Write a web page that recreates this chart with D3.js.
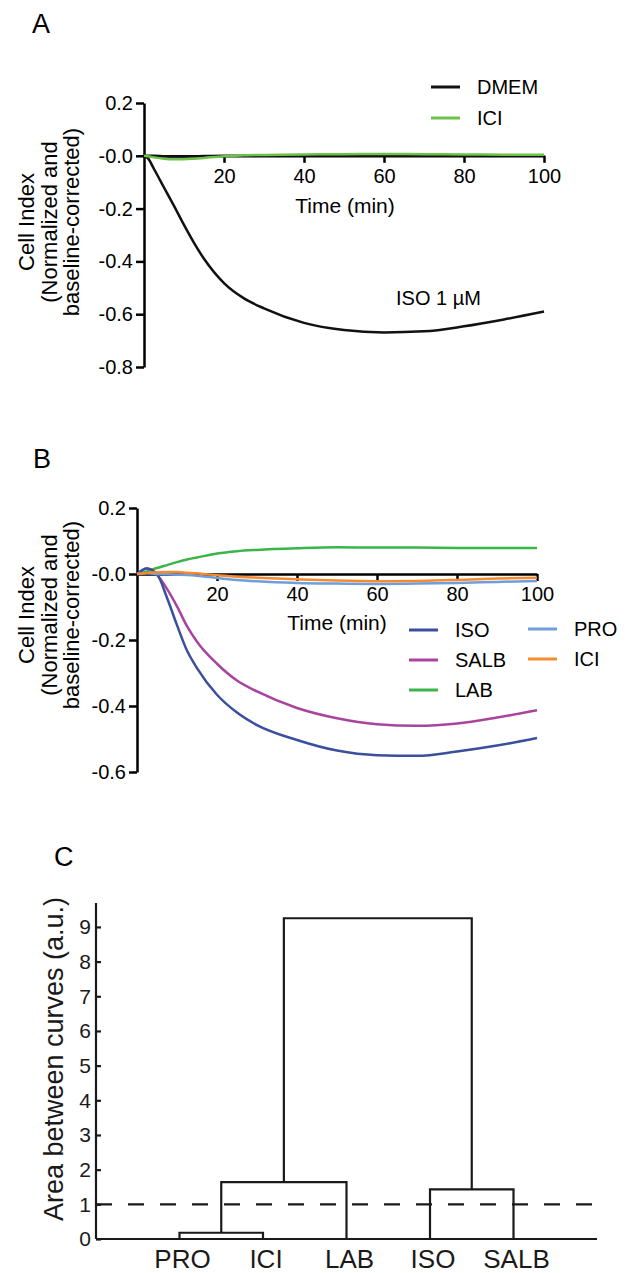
<!DOCTYPE html>
<html>
<head>
<meta charset="utf-8">
<script src="https://cdn.jsdelivr.net/npm/d3@7"></script>
<style>
  body { margin: 0; background: #fff; }
  svg { display: block; font-family: "Liberation Sans", Arial, sans-serif; }
</style>
</head>
<body>
<div id="chart"></div>
<script>
// ---- panel A data (time in min, cell index) ----
const timeA = [0, 1, 2.5, 5, 7.5, 10, 12.5, 15, 20, 25, 30, 40, 50, 60, 70, 80, 90, 100];
const dmemA = [0, 0, 0, -0.002, -0.003, -0.003, -0.002, -0.001, 0, 0, 0, 0, 0, 0, 0, 0, 0, 0];
const iciA  = [0, -0.002, -0.006, -0.011, -0.013, -0.013, -0.011, -0.008, -0.002, 0.002, 0.003, 0.005, 0.006, 0.007, 0.006, 0.005, 0.004, 0.004];
const isoA  = [0, -0.01, -0.05, -0.12, -0.19, -0.262, -0.33, -0.39, -0.482, -0.54, -0.578, -0.633, -0.66, -0.669, -0.665, -0.646, -0.62, -0.59];
const yTicksA = [-0.8, -0.6, -0.4, -0.2, 0, 0.2];

// ---- panel B data ----
const timeB = [0, 2.5, 5, 7.5, 10, 12.5, 15, 20, 25, 30, 40, 50, 60, 70, 80, 90, 100];
const isoB  = [0, 0.017, 0, -0.072, -0.155, -0.232, -0.285, -0.366, -0.42, -0.458, -0.503, -0.535, -0.549, -0.551, -0.538, -0.52, -0.497];
const salbB = [0, 0.017, -0.003, -0.045, -0.098, -0.158, -0.205, -0.272, -0.323, -0.356, -0.406, -0.437, -0.455, -0.46, -0.453, -0.435, -0.413];
const labB  = [0, 0.008, 0.018, 0.027, 0.036, 0.044, 0.05, 0.062, 0.069, 0.073, 0.078, 0.081, 0.08, 0.08, 0.079, 0.079, 0.079];
const proB  = [0, 0.002, 0, -0.001, -0.002, -0.003, -0.005, -0.012, -0.018, -0.022, -0.027, -0.029, -0.03, -0.029, -0.027, -0.024, -0.021];
const iciB  = [0, 0.003, 0.005, 0.006, 0.006, 0.004, 0.002, -0.004, -0.008, -0.011, -0.016, -0.02, -0.022, -0.021, -0.018, -0.014, -0.011];
const yTicksB = [-0.6, -0.4, -0.2, 0, 0.2];
const xTicks = [20, 40, 60, 80, 100];

// ---- panel C data (dendrogram) ----
const leaves = ["PRO", "ICI", "LAB", "ISO", "SALB"];
// linkage rows: [child a, child b, height]; index >= leaves.length refers to an earlier row
const linkage = [
  [0, 1, 0.18],
  [5, 2, 1.64],
  [3, 4, 1.43],
  [6, 7, 9.25]
];
const cutoff = 1;
const yTicksC = [0, 1, 2, 3, 4, 5, 6, 7, 8, 9];

const W = 627, H = 1273;
const font = "Liberation Sans, Arial, sans-serif";

const svg = d3.select("#chart").append("svg")
  .attr("width", W)
  .attr("height", H);

function fmtCI(d) {
  if (d === 0) return "-0.0";
  return (d < 0 ? "-" : "") + Math.abs(d).toFixed(1);
}

function styleAxis(g, size) {
  g.selectAll("path, line").attr("stroke", "#000").attr("stroke-width", 2.5);
  g.selectAll("text").attr("fill", "#000").attr("font-size", size).attr("font-family", font);
}

function yTitle(g, x0, yc) {
  const lines = ["Cell Index", "(Normalized and", "baseline-corrected)"];
  lines.forEach((t, i) => {
    g.append("text")
      .attr("transform", `translate(${x0 + i * 22.5},${yc}) rotate(-90)`)
      .attr("text-anchor", "middle")
      .attr("font-size", 22)
      .text(t);
  });
}

function legend(g, items, x, y, dy) {
  items.forEach((it, i) => {
    g.append("line")
      .attr("x1", x).attr("x2", x + 29)
      .attr("y1", y + i * dy).attr("y2", y + i * dy)
      .attr("stroke", it.color).attr("stroke-width", 3);
    g.append("text")
      .attr("x", x + 46).attr("y", y + i * dy + 7)
      .attr("font-size", 20)
      .text(it.name);
  });
}

function drawTimePanel(cfg) {
  const g = svg.append("g");
  const x = d3.scaleLinear().domain([0, 100]).range(cfg.xr);
  const y = d3.scaleLinear().domain(cfg.yd).range(cfg.yr);

  g.append("text").attr("x", cfg.letter[0]).attr("y", cfg.letter[1])
    .attr("font-size", 27).text(cfg.name);

  const ya = g.append("g")
    .attr("transform", `translate(${x(0)},0)`)
    .call(d3.axisLeft(y).tickValues(cfg.yTicks).tickFormat(fmtCI).tickSize(8).tickSizeOuter(0).tickPadding(3));
  styleAxis(ya, 20);

  const xa = g.append("g")
    .attr("transform", `translate(0,${y(0)})`)
    .call(d3.axisBottom(x).tickValues(xTicks).tickSize(7).tickSizeOuter(0).tickPadding(6));
  styleAxis(xa, 20);

  g.append("text")
    .attr("x", cfg.timeLabel[0]).attr("y", cfg.timeLabel[1])
    .attr("text-anchor", "middle").attr("font-size", 21)
    .text("Time (min)");

  yTitle(g, cfg.titleX, cfg.titleY);

  const line = d3.line().curve(d3.curveMonotoneX)
    .x(d => x(d[0])).y(d => y(d[1]));
  cfg.series.forEach(s => {
    g.append("path")
      .datum(cfg.time.map((t, i) => [t, s.values[i]]))
      .attr("fill", "none")
      .attr("stroke", s.color)
      .attr("stroke-width", s.width || 2.5)
      .attr("d", line);
  });
  return g;
}

// Panel A
const gA = drawTimePanel({
  name: "A", letter: [32, 33],
  xr: [144, 544], yd: [-0.8, 0.2], yr: [367, 103],
  yTicks: yTicksA, timeLabel: [345, 213],
  titleX: 34, titleY: 222,
  time: timeA,
  series: [
    { values: isoA, color: "#111" },
    { values: dmemA, color: "#111" },
    { values: iciA, color: "#6cc24a" }
  ]
});
legend(gA, [{ name: "DMEM", color: "#111" }, { name: "ICI", color: "#6cc24a" }], 431, 87, 31);
gA.append("text").attr("x", 396).attr("y", 305).attr("font-size", 20).text("ISO 1 \u00b5M");

// Panel B
const gB = drawTimePanel({
  name: "B", letter: [33, 468],
  xr: [137, 537], yd: [-0.6, 0.2], yr: [772, 508],
  yTicks: yTicksB, timeLabel: [337, 630],
  titleX: 34, titleY: 615,
  time: timeB,
  series: [
    { values: labB, color: "#3ab54a" },
    { values: salbB, color: "#a8449e" },
    { values: isoB, color: "#3a4f9e" },
    { values: proB, color: "#6e9fdc" },
    { values: iciB, color: "#f58a2e" }
  ]
});
legend(gB, [
  { name: "ISO", color: "#3a4f9e" },
  { name: "SALB", color: "#a8449e" },
  { name: "LAB", color: "#3ab54a" }
], 409, 630, 30);
legend(gB, [
  { name: "PRO", color: "#6e9fdc" },
  { name: "ICI", color: "#f58a2e" }
], 528, 629, 30);

// Panel C: dendrogram
const gC = svg.append("g");
const xC = d3.scaleLinear().domain([0, leaves.length + 1]).range([96, 597]);
const yC = d3.scaleLinear().domain([0, 9.69]).range([1239, 903]);

gC.append("text").attr("x", 54).attr("y", 866).attr("font-size", 27).text("C");

// node positions: leaves then merged clusters
const nodes = leaves.map((l, i) => ({ x: i + 1, h: 0 }));
linkage.forEach(([a, b, h]) => {
  const na = nodes[a], nb = nodes[b];
  gC.append("path")
    .attr("d", d3.line()([[xC(na.x), yC(na.h)], [xC(na.x), yC(h)], [xC(nb.x), yC(h)], [xC(nb.x), yC(nb.h)]]))
    .attr("fill", "none").attr("stroke", "#1a1a1a").attr("stroke-width", 2.2);
  nodes.push({ x: (na.x + nb.x) / 2, h: h });
});

gC.append("line")
  .attr("x1", xC(0)).attr("x2", xC(leaves.length + 1))
  .attr("y1", yC(cutoff)).attr("y2", yC(cutoff))
  .attr("stroke", "#1a1a1a").attr("stroke-width", 2.2)
  .attr("stroke-dasharray", "16,16");

const yaC = gC.append("g")
  .attr("transform", `translate(${xC(0)},0)`)
  .call(d3.axisLeft(yC).tickValues(yTicksC).tickSize(-5).tickSizeOuter(0).tickPadding(5));
yaC.select(".domain").attr("d", `M0,${yC(9.69)}V${yC(0)}`);
yaC.selectAll("path, line").attr("stroke", "#1a1a1a").attr("stroke-width", 2.2);
yaC.selectAll("text").attr("fill", "#1a1a1a").attr("font-size", 21).attr("font-family", font);

gC.append("line")
  .attr("x1", xC(0)).attr("x2", xC(leaves.length + 1))
  .attr("y1", yC(0)).attr("y2", yC(0))
  .attr("stroke", "#1a1a1a").attr("stroke-width", 2.2);

gC.selectAll(".leaf").data(leaves).enter().append("text")
  .attr("class", "leaf")
  .attr("x", (d, i) => xC(i + 1) + 3)
  .attr("y", 1268)
  .attr("text-anchor", "middle")
  .attr("font-size", 26)
  .attr("fill", "#1a1a1a")
  .text(d => d);

gC.append("text")
  .attr("transform", `translate(63,${(yC(0) + yC(9.69)) / 2 - 12}) rotate(-90)`)
  .attr("text-anchor", "middle")
  .attr("font-size", 27)
  .attr("fill", "#1a1a1a")
  .text("Area between curves (a.u.)");
</script>
</body>
</html>
